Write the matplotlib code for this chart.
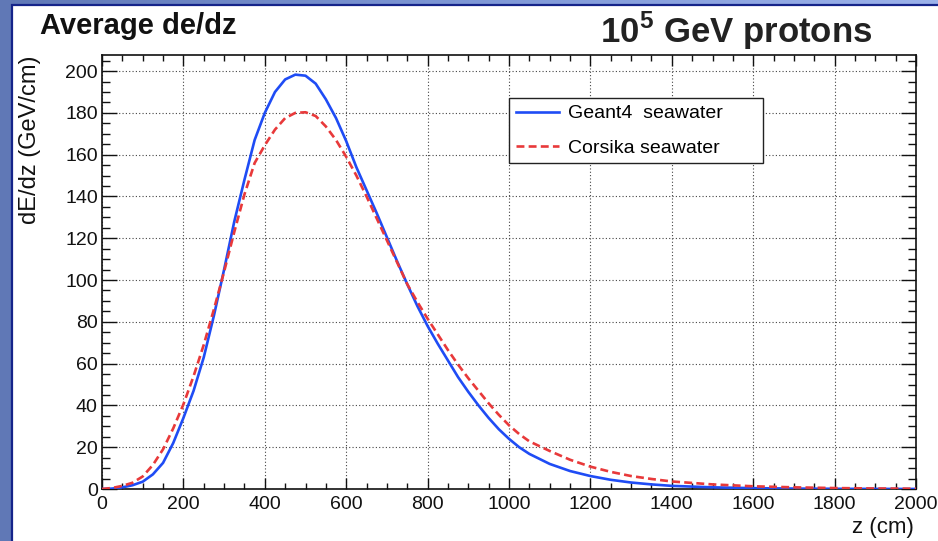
import numpy as np
import matplotlib
matplotlib.use("Agg")
import matplotlib.pyplot as plt
from matplotlib.patches import Rectangle
from matplotlib.colors import LinearSegmentedColormap
from matplotlib.ticker import MultipleLocator

plt.rcParams['font.family'] = ['Liberation Sans', 'DejaVu Sans']
plt.rcParams['mathtext.fontset'] = 'custom'
plt.rcParams['mathtext.rm'] = 'Liberation Sans'
plt.rcParams['mathtext.bf'] = 'Liberation Sans:bold'

# depth along shower (cm)
z = [0, 25, 50, 75, 100, 125, 150, 175, 200, 225, 250, 275, 300, 325, 350,
     375, 400, 425, 450, 475, 500, 525, 550, 575, 600, 625, 650, 675, 700,
     725, 750, 775, 800, 825, 850, 875, 900, 925, 950, 975, 1000, 1025, 1050,
     1100, 1150, 1200, 1250, 1300, 1350, 1400, 1500, 1600, 1700, 1800, 1900,
     2000]

geant4 = [0, 0.2, 0.8, 1.8, 3.5, 7, 12.5, 22, 34, 47, 63, 83, 105, 128, 148,
          167, 180, 190, 196, 198.3, 197.8, 194, 186.5, 177.5, 166.5, 154,
          143, 132, 120.5, 109, 98, 87.5, 78, 69.5, 61.5, 53.5, 46.5, 40,
          34, 28.6, 24, 20, 16.8, 12, 8.6, 6.2, 4.4, 3.1, 2.2, 1.5, 0.8, 0.4,
          0.2, 0.1, 0.05, 0.02]

corsika = [0, 0.5, 1.5, 3, 6, 11.5, 19, 29, 40.5, 54, 69, 86, 104, 123, 141,
           156, 164.5, 172, 177.5, 180, 180.3, 178.5, 173.5, 167, 159, 150,
           140, 129.5, 119, 108.5, 98, 89.5, 81.5, 74, 66.5, 59.5, 53, 47, 41,
           35.5, 30.5, 26.3, 22.8, 18.2, 14, 10.7, 8.2, 6.2, 4.8, 3.6, 2.2,
           1.3, 0.8, 0.45, 0.25, 0.15]

W, H = 938, 541
fig = plt.figure(figsize=(W / 100, H / 100), dpi=100)

# blue slide background with gradient
bg = fig.add_axes([0, 0, 1, 1], zorder=-10)
grad = np.linspace(0, 1, 256).reshape(1, -1)
cmap = LinearSegmentedColormap.from_list("slide", ["#6078b6", "#7f98d6", "#9cb2ea"])
bg.imshow(grad, aspect='auto', cmap=cmap, extent=[0, 1, 0, 1])
bg.set_xlim(0, 1)
bg.set_ylim(0, 1)
bg.axis('off')
bg.add_patch(Rectangle((12 / W, -0.01), 1.0, (H - 5) / H + 0.01,
                       facecolor='white', edgecolor='#15248a', linewidth=1.6))

ax = fig.add_axes([102 / W, (H - 489) / H, 814 / W, 434 / H])
ax.plot(z, geant4, color='#1f4cf5', lw=1.9, label='Geant4  seawater', zorder=3)
ax.plot(z, corsika, color='#e8393a', lw=1.9, ls=(0, (3, 1.6)),
        label='Corsika seawater', zorder=4)

ax.set_xlim(0, 2000)
ax.set_ylim(0, 207.7)
ax.xaxis.set_major_locator(MultipleLocator(200))
ax.xaxis.set_minor_locator(MultipleLocator(50))
ax.yaxis.set_major_locator(MultipleLocator(20))
ax.yaxis.set_minor_locator(MultipleLocator(5))
ax.grid(True, which='major', color='#444444', ls=(0, (1, 2)), lw=0.8)
ax.tick_params(which='both', direction='in', top=True, right=True,
               labelsize=14, colors='#111111', width=1.0)
ax.tick_params(axis='x', which='major', length=8, pad=5)
ax.tick_params(axis='x', which='minor', length=4)
ax.tick_params(axis='y', which='major', length=11, pad=3)
ax.tick_params(axis='y', which='minor', length=6)
for s in ax.spines.values():
    s.set_linewidth(1.2)
    s.set_color('#111111')

fig.text(30 / W, 1 - 56 / H, 'dE/dz (GeV/cm)', fontsize=17, rotation=90,
         ha='center', va='top', color='#111111')
fig.text(914 / W, 1 - 528 / H, 'z (cm)', fontsize=16, ha='right',
         va='center', color='#111111')

leg = ax.legend(loc='upper left', bbox_to_anchor=(0.5, 0.7, 0.312, 0.201),
                mode='expand', borderaxespad=0, fontsize=14,
                fancybox=False, edgecolor='#222222', framealpha=1,
                handlelength=2.2, handletextpad=0.5, borderpad=0.35,
                labelspacing=0.85)
leg.get_frame().set_linewidth(1.0)

fig.text(40 / W, 1 - 26 / H, 'Average de/dz', fontsize=21, fontweight='bold',
         va='center', ha='left', color='#111111')
fig.text(872 / W, 1 - 31 / H, r'10$^{\mathbf{5}}$ GeV protons', fontsize=25,
         fontweight='bold', va='center', ha='right', color='#222222')

fig.savefig('out.png', dpi=100)
